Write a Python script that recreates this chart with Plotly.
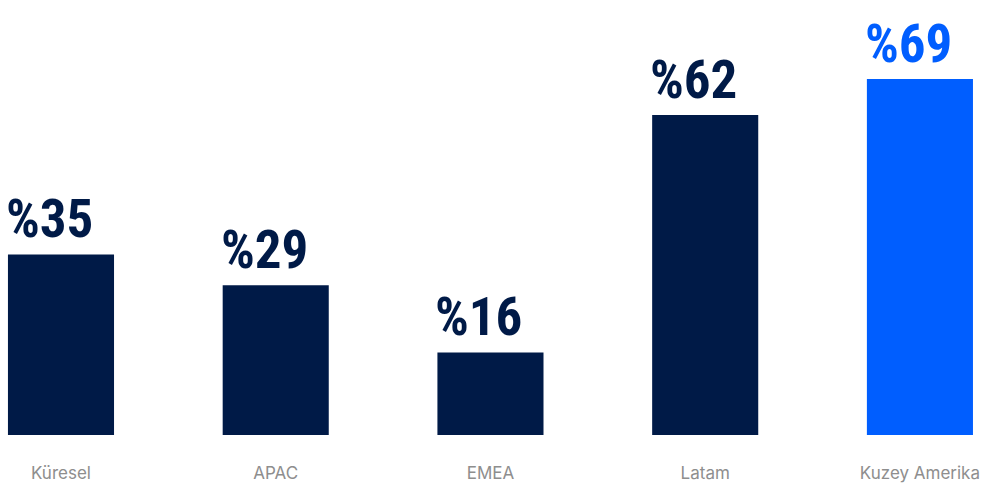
import plotly.graph_objects as go

regions = ["Küresel", "APAC", "EMEA", "Latam", "Kuzey Amerika"]
shares = [35, 29, 16, 62, 69]
bar_colors = ["#001a47", "#001a47", "#001a47", "#001a47", "#005eff"]

positions = list(range(len(regions)))
bar_width = 0.494

fig = go.Figure(
    go.Bar(
        x=positions,
        y=shares,
        width=bar_width,
        marker=dict(color=bar_colors, line=dict(width=0)),
        hoverinfo="skip",
    )
)

# value labels sit above each bar, flush with its left edge
for pos, val, col in zip(positions, shares, bar_colors):
    fig.add_annotation(
        x=pos - bar_width / 2,
        y=val,
        xref="x",
        yref="y",
        text=f"%{val}",
        showarrow=False,
        xanchor="left",
        yanchor="bottom",
        xshift=-4,
        yshift=2,
        font=dict(family="Roboto Condensed, Open Sans Condensed, sans-serif",
                  size=53, color=col, weight="bold"),
    )

fig.update_layout(
    width=985,
    height=488,
    margin=dict(l=0, r=0, t=0, b=53),
    paper_bgcolor="white",
    plot_bgcolor="white",
    showlegend=False,
    xaxis=dict(
        range=[-0.284, 4.303],
        tickvals=positions,
        ticktext=regions,
        showgrid=False,
        zeroline=False,
        showline=False,
        ticks="",
        ticklabelstandoff=26,
        tickfont=dict(family="Inter, Lato, sans-serif", size=17, color="#8e8e8e"),
    ),
    yaxis=dict(
        range=[0, 84.3],
        visible=False,
        showgrid=False,
        zeroline=False,
    ),
)

fig.write_html("out.html")
